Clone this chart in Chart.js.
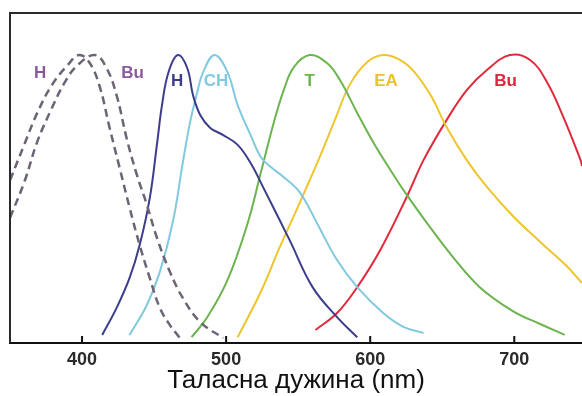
<!DOCTYPE html>
<html>
<head>
<meta charset="utf-8">
<script src="https://cdn.jsdelivr.net/npm/chart.js@4.4.1/dist/chart.umd.min.js"></script>
<style>
  html, body { margin: 0; padding: 0; background: #fff; overflow: hidden; }
</style>
</head>
<body>
<canvas id="spectraChart" width="582" height="396"></canvas>
<script>
// Wavelength ticks (nm)
const tickValues = [400, 500, 600, 700];

// H, dashed (left)
const hDashedNm  = [350, 360, 369, 379, 390, 398, 405, 412, 419, 426, 433, 440, 447, 454, 461, 468];
const hDashedVal = [0.565, 0.69, 0.80, 0.895, 0.965, 1.0, 0.975, 0.895, 0.75, 0.61, 0.47, 0.34, 0.226, 0.122, 0.062, 0.017];

// Bu, dashed
const buDashedNm  = [350, 360, 369, 379, 388, 397, 409, 417, 424, 431, 438, 445, 452, 461, 470, 482, 498];
const buDashedVal = [0.435, 0.56, 0.70, 0.815, 0.905, 0.965, 1.0, 0.955, 0.86, 0.71, 0.585, 0.48, 0.365, 0.247, 0.156, 0.073, 0.017];

// H, solid
const hNm  = [414, 424, 433, 440, 447, 452, 455.5, 460, 466.5, 473, 477, 482, 489, 498, 508, 517, 526, 544, 560, 577, 591];
const hVal = [0.028, 0.122, 0.226, 0.34, 0.503, 0.69, 0.826, 0.94, 1.0, 0.955, 0.861, 0.792, 0.747, 0.722, 0.688, 0.625, 0.538, 0.358, 0.194, 0.09, 0.02];

// CH
const chNm  = [433, 445, 454, 463, 470, 475, 480, 484, 492, 501, 508, 517, 524, 531, 540, 551, 563, 577, 591, 609, 623, 637];
const chVal = [0.028, 0.132, 0.247, 0.42, 0.628, 0.767, 0.872, 0.94, 1.0, 0.94, 0.826, 0.722, 0.646, 0.611, 0.576, 0.524, 0.417, 0.288, 0.194, 0.104, 0.056, 0.035];

// T
const tNm  = [476, 487, 501, 515, 524, 533, 540, 547, 558, 570, 579, 591, 602, 614, 626, 642, 658, 676, 699, 718, 735];
const tVal = [0.02, 0.09, 0.219, 0.417, 0.59, 0.764, 0.878, 0.958, 1.0, 0.972, 0.913, 0.799, 0.698, 0.601, 0.51, 0.399, 0.295, 0.194, 0.111, 0.066, 0.028];

// EA
const eaNm  = [508, 524, 537, 551, 565, 576, 586, 598, 609, 620, 630, 642, 653, 667, 681, 699, 718, 737, 747];
const eaVal = [0.02, 0.177, 0.33, 0.486, 0.646, 0.781, 0.899, 0.976, 1.0, 0.985, 0.945, 0.86, 0.75, 0.635, 0.542, 0.441, 0.351, 0.264, 0.208];

// Bu, solid
const buNm  = [562, 577, 591, 607, 626, 637, 653, 667, 681, 697, 711, 723, 734, 746, 747];
const buVal = [0.045, 0.104, 0.194, 0.323, 0.514, 0.635, 0.774, 0.878, 0.948, 1.0, 0.983, 0.903, 0.785, 0.635, 0.615];

// Curve labels
const labelTexts = ['H', 'Bu', 'H', 'CH', 'T', 'EA', 'Bu'];
const labelNm    = [371, 435, 466, 493, 558, 611, 694];
const labelVal   = [0.935, 0.935, 0.91, 0.91, 0.91, 0.91, 0.91];
const labelColors = ['#8a5a9e', '#8a5a9e', '#3c3d8c', '#7fcbe0', '#6cb44e', '#e9c232', '#d9283c'];

const toPoints = (xs, ys) => xs.map((v, i) => ({ x: v, y: ys[i] }));

function curve(xs, ys, color, dashed) {
  return {
    data: toPoints(xs, ys),
    borderColor: color,
    borderWidth: dashed ? 2.5 : 2,
    borderDash: dashed ? [8, 5] : [],
    pointRadius: 0,
    tension: 0.4,
    fill: false
  };
}

const framePlugin = {
  id: 'frame',
  afterDraw(chart) {
    const { ctx, chartArea: a, scales: { x } } = chart;
    ctx.save();
    ctx.strokeStyle = '#2b2b2b';
    ctx.lineWidth = 2;
    ctx.beginPath();
    ctx.moveTo(a.left, a.bottom);
    ctx.lineTo(a.left, a.top);
    ctx.lineTo(a.right, a.top);
    ctx.stroke();
    // short tick marks pointing into the plot
    ctx.strokeStyle = '#111';
    x.ticks.forEach(t => {
      const px = x.getPixelForValue(t.value);
      ctx.beginPath();
      ctx.moveTo(px, a.bottom);
      ctx.lineTo(px, a.bottom - 7);
      ctx.stroke();
    });
    ctx.restore();
  }
};

const labelPlugin = {
  id: 'curveLabels',
  afterDatasetsDraw(chart) {
    const { ctx, scales: { x, y } } = chart;
    ctx.save();
    ctx.font = 'bold 17px "Liberation Sans", Arial, sans-serif';
    ctx.textAlign = 'center';
    ctx.textBaseline = 'middle';
    labelTexts.forEach((txt, i) => {
      ctx.fillStyle = labelColors[i];
      ctx.fillText(txt, x.getPixelForValue(labelNm[i]), y.getPixelForValue(labelVal[i]));
    });
    ctx.restore();
  }
};

const ctx = document.getElementById('spectraChart').getContext('2d');
new Chart(ctx, {
  type: 'line',
  data: {
    datasets: [
      curve(hDashedNm, hDashedVal, '#6c6474', true),
      curve(buDashedNm, buDashedVal, '#6c6474', true),
      curve(hNm, hVal, '#3c3d8c', false),
      curve(chNm, chVal, '#80c9de', false),
      curve(tNm, tVal, '#6cb44e', false),
      curve(eaNm, eaVal, '#efc52e', false),
      curve(buNm, buVal, '#e02a3c', false)
    ]
  },
  options: {
    responsive: false,
    devicePixelRatio: 1,
    animation: false,
    layout: { padding: { left: 10, top: 13, right: 0, bottom: 0 } },
    plugins: {
      legend: { display: false },
      tooltip: { enabled: false }
    },
    scales: {
      x: {
        type: 'linear',
        min: 350,
        max: 747,
        afterBuildTicks: axis => { axis.ticks = tickValues.map(v => ({ value: v })); },
        afterFit: axis => { axis.height = 53; },
        grid: { display: false, drawTicks: false },
        border: { display: true, color: '#111', width: 2 },
        ticks: {
          padding: 6,
          color: '#2a2a2a',
          font: { family: '"Liberation Sans", Arial, sans-serif', size: 18, weight: 'bold' }
        },
        title: {
          display: true,
          text: 'Таласна дужина (nm)',
          color: '#111',
          padding: 0,
          font: { family: '"Liberation Sans", Arial, sans-serif', size: 26 }
        }
      },
      y: {
        display: false,
        min: 0,
        max: 1.146
      }
    }
  },
  plugins: [framePlugin, labelPlugin]
});
</script>
</body>
</html>
